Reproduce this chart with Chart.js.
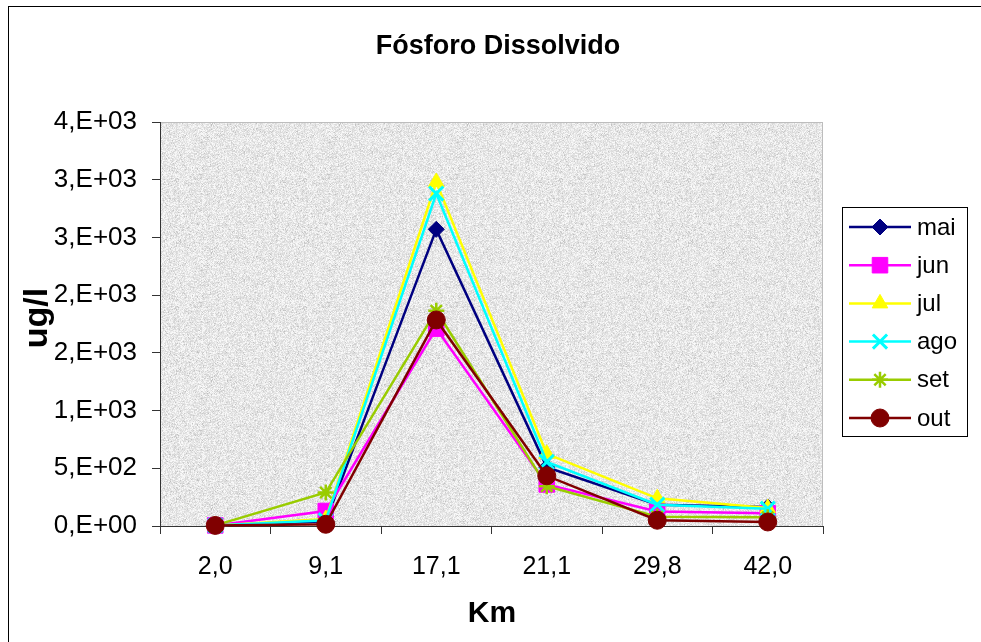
<!DOCTYPE html>
<html>
<head>
<meta charset="utf-8">
<script src="https://cdn.jsdelivr.net/npm/chart.js@4/dist/chart.umd.min.js"></script>
<style>
  html, body { margin: 0; padding: 0; background: #fff; overflow: hidden; }
  #wrap { width: 981px; height: 642px; position: relative; }
</style>
</head>
<body>
<div id="wrap"><canvas id="chart" width="981" height="642"></canvas></div>
<script>
(function() {
  'use strict';

  var KM = ['2,0', '9,1', '17,1', '21,1', '29,8', '42,0'];
  var Y_TICK_LABELS = ['0,E+00', '5,E+02', '1,E+03', '2,E+03', '2,E+03', '3,E+03', '3,E+03', '4,E+03'];

  var MAI = [5, 40, 2570, 510, 185, 165];
  var JUN = [5, 130, 1710, 360, 125, 110];
  var JUL = [5, 60, 2980, 625, 240, 155];
  var AGO = [5, 50, 2880, 555, 185, 150];
  var SET = [5, 290, 1865, 345, 80, 75];
  var OUT = [5, 15, 1785, 435, 50, 35];

  var FONT = "'Liberation Sans', Arial, sans-serif";
  var AXIS_COLOR = '#333333';

  Chart.defaults.font.family = FONT;
  Chart.defaults.color = '#000';

  function series(label, data, color, style, radius, bw) {
    return {
      label: label,
      data: data,
      borderColor: color,
      backgroundColor: color,
      borderWidth: 2.5,
      pointStyle: style,
      pointRadius: radius,
      pointHoverRadius: radius,
      pointBorderWidth: bw,
      pointBackgroundColor: color,
      pointBorderColor: color,
      tension: 0,
      clip: false
    };
  }

  var datasets = [
    series('mai', MAI, '#000080', 'rectRot', 8, 1),
    series('jun', JUN, '#ff00ff', 'rect', 11, 1),
    series('jul', JUL, '#ffff00', 'triangle', 9, 1),
    series('ago', AGO, '#00ffff', 'crossRot', 10, 3),
    series('set', SET, '#99cc00', 'star', 8, 2.5),
    series('out', OUT, '#800000', 'circle', 9, 1)
  ];
  // excel draws later series on top
  datasets.forEach(function(ds, i) { ds.order = datasets.length - i; });

  // grey speckled plot background
  var texture = (function() {
    var c = document.createElement('canvas');
    c.width = 128; c.height = 128;
    var g = c.getContext('2d');
    var img = g.createImageData(128, 128);
    for (var i = 0; i < 128 * 128; i++) {
      var h = i * 2654435761;
      h = (h ^ (h >>> 15)) >>> 0;
      h = Math.imul(h, 0x27d4eb2d) >>> 0;
      h = (h ^ (h >>> 13)) >>> 0;
      var v = 214 + (h % 38);
      if (h % 11 === 0) v -= 22;
      img.data[i * 4] = v;
      img.data[i * 4 + 1] = v;
      img.data[i * 4 + 2] = v;
      img.data[i * 4 + 3] = 255;
    }
    g.putImageData(img, 0, 0);
    return c;
  })();

  var decor = {
    id: 'decor',
    beforeDraw: function(chart) {
      var ctx = chart.ctx, a = chart.chartArea;
      ctx.save();
      ctx.fillStyle = ctx.createPattern(texture, 'repeat');
      ctx.fillRect(a.left, a.top, a.right - a.left, a.bottom - a.top);
      ctx.strokeStyle = '#bdbdbd';
      ctx.lineWidth = 1;
      ctx.strokeRect(a.left + 0.5, a.top + 0.5, a.right - a.left - 1, a.bottom - a.top);
      // outer chart frame
      ctx.strokeStyle = '#000';
      ctx.strokeRect(8.5, 6.5, 1200, 800);
      ctx.restore();
    },
    afterDraw: function(chart) {
      var ctx = chart.ctx;
      ctx.save();
      ctx.fillStyle = '#000';
      ctx.textAlign = 'center';
      ctx.textBaseline = 'middle';
      ctx.font = 'bold 27px ' + FONT;
      ctx.fillText('Fósforo Dissolvido', 498, 47);
      ctx.font = 'bold 30px ' + FONT;
      ctx.fillText('Km', 492, 614);
      ctx.font = 'bold 34px ' + FONT;
      ctx.translate(38, 318);
      ctx.rotate(-Math.PI / 2);
      ctx.fillText('ug/l', 0, 0);
      ctx.restore();

      // legend box, line + marker like the source
      ctx.save();
      ctx.fillStyle = '#fff';
      ctx.fillRect(842, 207, 125, 229);
      ctx.strokeStyle = '#000';
      ctx.lineWidth = 1;
      ctx.strokeRect(842.5, 207.5, 125, 229);
      ctx.font = '24px ' + FONT;
      ctx.textAlign = 'left';
      ctx.textBaseline = 'middle';
      chart.data.datasets.forEach(function(ds, i) {
        var y = 227 + i * 38.2;
        ctx.strokeStyle = ds.borderColor;
        ctx.lineWidth = ds.borderWidth;
        ctx.beginPath();
        ctx.moveTo(849, y);
        ctx.lineTo(911, y);
        ctx.stroke();
        ctx.fillStyle = ds.pointBackgroundColor;
        ctx.strokeStyle = ds.pointBorderColor;
        ctx.lineWidth = ds.pointBorderWidth;
        Chart.helpers.drawPoint(ctx, {
          pointStyle: ds.pointStyle,
          radius: ds.pointRadius,
          borderWidth: ds.pointBorderWidth,
          rotation: 0
        }, 880, y);
        ctx.fillStyle = '#000';
        ctx.fillText(ds.label, 917, y + 1);
      });
      ctx.restore();
    }
  };

  new Chart(document.getElementById('chart'), {
    type: 'line',
    data: { labels: KM, datasets: datasets },
    options: {
      responsive: false,
      animation: false,
      events: [],
      layout: { padding: { top: 122, right: 158, left: 0, bottom: 0 } },
      plugins: {
        legend: { display: false },
        title: { display: false },
        tooltip: { enabled: false }
      },
      scales: {
        x: {
          offset: true,
          afterFit: function(scale) { scale.height = 116; },
          grid: {
            offset: true,
            drawOnChartArea: false,
            drawTicks: true,
            tickLength: 8,
            color: AXIS_COLOR
          },
          border: { display: true, color: AXIS_COLOR, width: 1 },
          ticks: {
            color: '#000',
            font: { size: 25 },
            padding: 18,
            autoSkip: false,
            maxRotation: 0
          }
        },
        y: {
          min: 0,
          max: 3500,
          afterFit: function(scale) { scale.width = 160; },
          grid: {
            drawOnChartArea: false,
            drawTicks: true,
            tickLength: 8,
            color: AXIS_COLOR
          },
          border: { display: true, color: AXIS_COLOR, width: 1 },
          ticks: {
            stepSize: 500,
            color: '#000',
            font: { size: 26 },
            padding: 15,
            callback: function(value, index) { return Y_TICK_LABELS[index]; }
          }
        }
      }
    },
    plugins: [decor]
  });
})();
</script>
</body>
</html>
